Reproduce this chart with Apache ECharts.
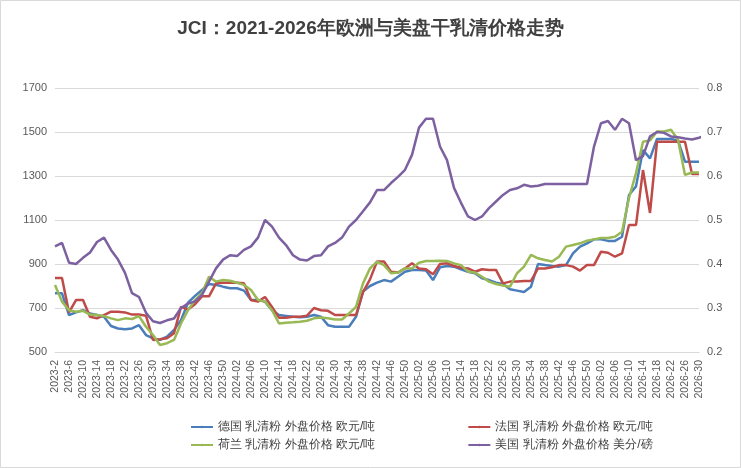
<!DOCTYPE html>
<html>
<head>
<meta charset="utf-8">
<script src="https://cdn.jsdelivr.net/npm/echarts@6/dist/echarts.min.js"></script>
</head>
<body style="margin:0">
<div id="main" style="width:741px;height:468px;"></div>
<script>
// biweekly categories 2023-2 .. 2026-30
var weeks = [];
for (var w = 2; w <= 52; w += 2) weeks.push('2023-' + w);
['2024', '2025'].forEach(function (y) {
    for (var w = 2; w <= 52; w += 2) weeks.push(y + '-' + (w < 10 ? '0' + w : w));
});
for (var w = 2; w <= 30; w += 2) weeks.push('2026-' + (w < 10 ? '0' + w : w));

var germany = [767,767,668,680,690,675,668,660,618,607,603,607,622,577,562,555,570,600,645,724,755,782,809,805,797,790,790,779,736,736,729,690,668,664,660,658,660,668,660,622,615,615,615,660,775,800,815,
    827,820,842,865,873,873,870,827,885,891,888,876,865,858,835,827,815,809,785,779,773,797,900,895,891,888,895,948,979,994,1012,1012,1005,1005,1024,1214,1253,1418,1380,1468,1468,1468,1462,1365,1365,1365];
var france = [836,836,680,736,736,660,653,668,683,683,680,670,670,665,555,558,562,585,705,693,717,753,753,812,815,815,815,812,736,729,750,705,656,656,660,660,665,700,690,687,668,668,668,668,772,830,911,
    911,865,861,880,903,880,876,853,900,903,891,883,880,865,876,873,873,812,820,820,823,823,880,880,885,895,895,888,870,895,895,956,951,933,948,1077,1077,1327,1132,1456,1456,1456,1456,1456,1309,1309];
var netherlands = [805,729,690,683,687,670,668,663,653,645,653,650,663,615,577,532,540,555,630,690,736,767,842,820,827,824,815,805,782,736,729,690,630,633,635,638,642,653,657,653,648,648,675,705,812,880,911,
    895,858,861,880,880,906,914,914,915,914,903,895,865,861,842,820,809,802,797,858,888,941,926,918,911,933,979,986,994,1006,1012,1018,1018,1024,1047,1200,1313,1456,1462,1502,1502,1510,1465,1305,1316,1316];
var usa = [0.44,0.448,0.403,0.40,0.414,0.426,0.45,0.46,0.432,0.41,0.38,0.334,0.325,0.289,0.27,0.266,0.272,0.276,0.30,0.31,0.315,0.33,0.36,0.39,0.41,0.42,0.418,0.432,0.44,0.46,0.50,0.485,0.46,0.443,0.42,0.41,0.408,0.418,0.42,0.44,0.448,0.46,0.485,0.50,0.52,0.54,0.568,
    0.568,0.584,0.598,0.614,0.648,0.71,0.73,0.73,0.667,0.636,0.573,0.539,0.508,0.50,0.508,0.527,0.542,0.557,0.568,0.572,0.58,0.576,0.578,0.582,0.582,0.582,0.582,0.582,0.582,0.582,0.667,0.72,0.725,0.705,0.73,0.72,0.636,0.645,0.69,0.70,0.698,0.69,0.688,0.685,0.683,0.687,0.693];

var names = ['德国 乳清粉 外盘价格 欧元/吨', '法国 乳清粉 外盘价格 欧元/吨', '荷兰 乳清粉 外盘价格 欧元/吨', '美国 乳清粉 外盘价格 美分/磅'];
var colors = ['#4a7ebb', '#be4b48', '#98b954', '#7d60a0'];

var chart = echarts.init(document.getElementById('main'));
function line(i, data, axis) {
    return {
        name: names[i], type: 'line', data: data, yAxisIndex: axis,
        symbol: 'none', lineStyle: { width: 2.5, color: colors[i] }, itemStyle: { color: colors[i] }
    };
}
var legendText = { fontSize: 12, color: '#404040' };
chart.setOption({
    backgroundColor: '#fff',
    title: {
        text: 'JCI：2021-2026年欧洲与美盘干乳清价格走势', left: 'center', top: 14,
        textStyle: { fontSize: 19, fontWeight: 'bold', color: '#404040' }
    },
    legend: [
        { data: [names[0], names[1]], top: 416, left: 185, itemGap: 92, itemWidth: 22, itemHeight: 3, textStyle: legendText },
        { data: [names[2], names[3]], top: 434, left: 185, itemGap: 92, itemWidth: 22, itemHeight: 3, textStyle: legendText }
    ],
    grid: { left: 55, right: 42, top: 88, bottom: 116 },
    xAxis: {
        type: 'category', data: weeks, boundaryGap: false,
        axisLine: { lineStyle: { color: '#d9d9d9' } }, axisTick: { show: false },
        axisLabel: { rotate: 90, interval: 1, fontSize: 10.5, color: '#595959' }
    },
    yAxis: [
        { type: 'value', min: 500, max: 1700, interval: 200,
          axisLabel: { color: '#595959', fontSize: 11, formatter: function (v) { return String(v); } },
          splitLine: { lineStyle: { color: '#d9d9d9' } } },
        { type: 'value', min: 0.2, max: 0.8, interval: 0.1,
          axisLabel: { color: '#595959', fontSize: 11, formatter: function (v) { return v.toFixed(1); } },
          splitLine: { show: false } }
    ],
    series: [line(0, germany, 0), line(1, france, 0), line(2, netherlands, 0), line(3, usa, 1)],
    graphic: [{ type: 'rect', shape: { x: 0.5, y: 0.5, width: 740, height: 467 }, style: { fill: 'none', stroke: '#d9d9d9' } }]
});
</script>
</body>
</html>
